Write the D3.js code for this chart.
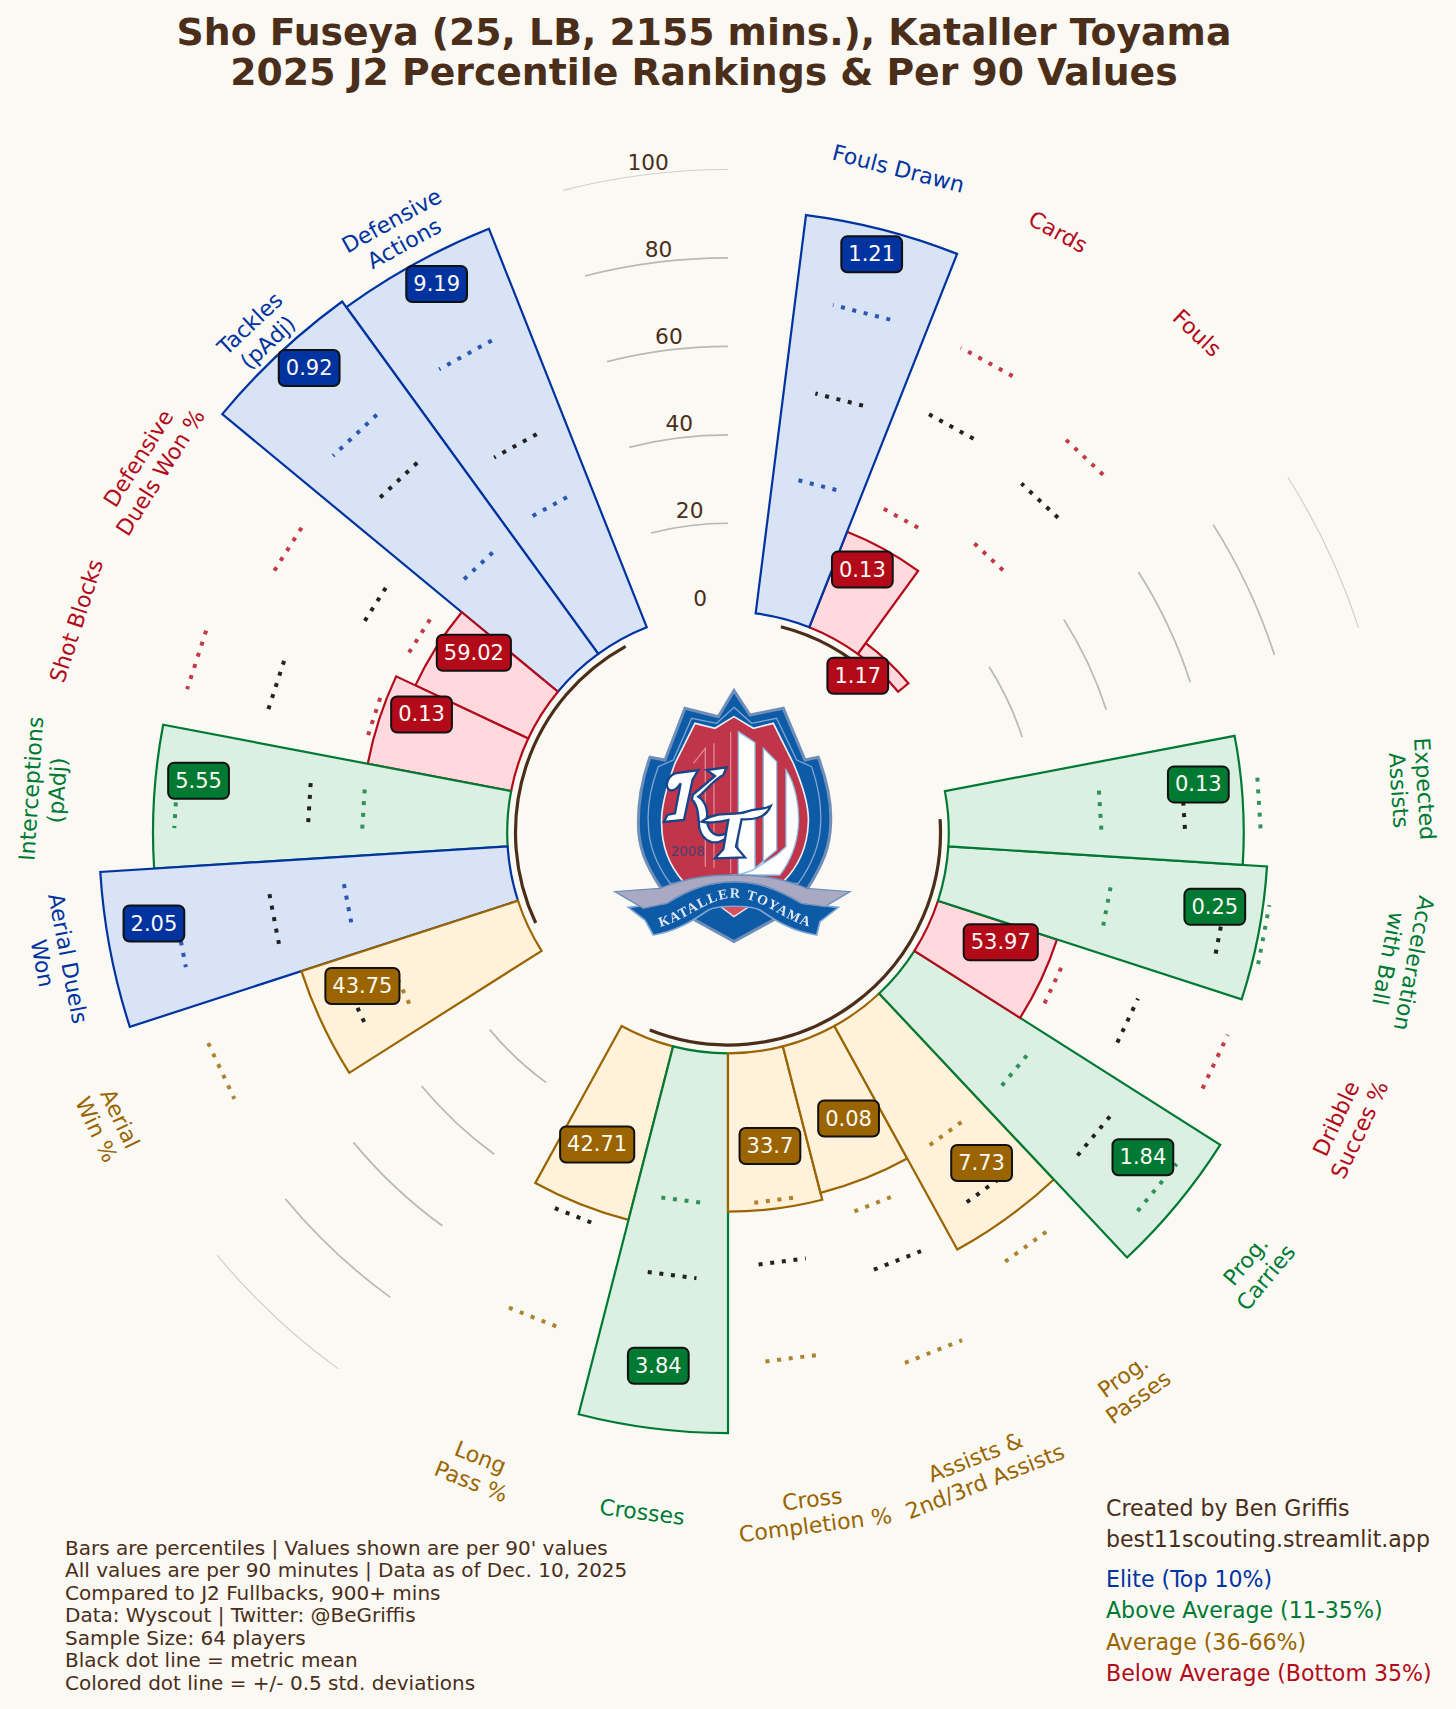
<!DOCTYPE html>
<html>
<head>
<meta charset="utf-8">
<script src="https://cdn.jsdelivr.net/npm/d3@7"></script>
<style>
  html, body { margin: 0; padding: 0; background: #fbf9f4; }
  svg { display: block; }
  text { font-family: "DejaVu Sans", sans-serif; }
  text.crestSerif { font-family: "Liberation Serif", serif; }
</style>
</head>
<body>
<script>
// clockwise from the top, one entry per bar
var metrics = ["Fouls Drawn", "Cards", "Fouls", "Expected\nAssists", "Acceleration\nwith Ball", "Dribble\nSucces %",
  "Prog.\nCarries", "Prog.\nPasses", "Assists &\n2nd/3rd Assists", "Cross\nCompletion %", "Crosses", "Long\nPass %",
  "Aerial\nWin %", "Aerial Duels\nWon", "Interceptions\n(pAdj)", "Shot Blocks", "Defensive\nDuels Won %", "Tackles\n(pAdj)", "Defensive\nActions"];
var slots = [0, 1, 2, 5, 6, 7, 8, 9, 10, 11, 12, 13, 16, 17, 18, 19, 20, 21, 22];
var percentiles = [90.8, 23.2, 3, 66.7, 72.2, 28.3, 81.9, 57.7, 34.2, 35.8, 85.9, 40.5, 51.5, 92.3, 80.1, 33, 28.2, 98.5, 96.9];
var values = ["1.21", "0.13", "1.17", "0.13", "0.25", "53.97", "1.84", "7.73", "0.08", "33.7", "3.84", "42.71", "43.75", "2.05", "5.55", "0.13", "59.02", "0.92", "9.19"];
var tiers = ["elite", "below", "below", "above", "above", "below", "above", "average", "average", "average", "above", "average", "average", "elite", "above", "below", "below", "elite", "elite"];
var meanLine = [51.3, 55, 53.2, 53.4, 63.7, 50.1, 57.7, 49.6, 54.3, 48, 51.1, 43.6, 42.9, 54.7, 45.1, 57.7, 45.2, 59.3, 50];
var highLine = [71.7, 71.7, 67.3, 70.5, 73.6, 72, 76.2, 65.6, 76.5, 70, 69.5, 68.4, 76.9, 76.4, 75.3, 76.6, 68.6, 73.5, 73.5];
var lowLine = [31.3, 31.3, 36, 34.5, 37.5, 31.4, 34.4, 34.2, 40.4, 34, 34, 27.5, 31.9, 37.7, 32.8, 34.4, 32.9, 32.8, 34.2];

var gridTicks = [0, 20, 40, 60, 80, 100];
var gridLevels = [20, 40, 60, 80, 100];
var gridSlots = [3.5, 14.5, 23.5];
var groupSpans = [[0.5, 2.5], [5.5, 13.5], [16.5, 22.5]];

var notes = ["Bars are percentiles | Values shown are per 90' values",
  "All values are per 90 minutes | Data as of Dec. 10, 2025",
  "Compared to J2 Fullbacks, 900+ mins",
  "Data: Wyscout | Twitter: @BeGriffis",
  "Sample Size: 64 players",
  "Black dot line = metric mean",
  "Colored dot line = +/- 0.5 std. deviations"];
var credits = ["Created by Ben Griffis", "best11scouting.streamlit.app"];
var legendTiers = ["elite", "above", "average", "below"];
var legendLabels = ["Elite (Top 10%)", "Above Average (11-35%)", "Average (36-66%)", "Below Average (Bottom 35%)"];

var edgeColor = { elite: "#0033a0", above: "#007a33", average: "#9a6500", below: "#b30a1a" };
var fillColor = { elite: "#d8e3f6", above: "#dbf0e3", average: "#fff1da", below: "#ffd9dd" };
var brown = "#4a2e19";

var width = 1456, height = 1709, cx = 728, cy = 832.5;

var svg = d3.select("body").append("svg").attr("width", width).attr("height", height);
svg.append("rect").attr("width", width).attr("height", height).attr("fill", "#fbf9f4");

var radius = d3.scaleLinear().domain([0, 100]).range([220.8, 663]);
// 25 equal slots round the circle, slot 0 starts a little past the top
var theta = d3.scaleLinear().domain([0, 25]).range([0.04 * Math.PI, 2.04 * Math.PI]);

function polar(a, r) {
  return [cx + r * Math.sin(a), cy - r * Math.cos(a)];
}

var arc = d3.arc();
var polarG = svg.append("g").attr("transform", "translate(" + cx + "," + cy + ")");

// grey rings sit only in the empty sectors
gridLevels.forEach(function (lvl) {
  gridSlots.forEach(function (s) {
    polarG.append("path")
      .attr("d", arc({ innerRadius: radius(lvl), outerRadius: radius(lvl), startAngle: theta(s), endAngle: theta(s + 1) }))
      .attr("fill", "none")
      .attr("stroke", lvl == 100 ? "#cfcfcc" : "#b8b8b6")
      .attr("stroke-width", lvl == 100 ? 1.2 : 1.7);
  });
});

// bars overlap by their edges, the clockwise neighbour is painted on top
var order = d3.range(metrics.length).reverse();
polarG.selectAll("path.bar")
  .data(order)
  .enter()
  .append("path")
  .attr("class", "bar")
  .attr("d", function (i) {
    return arc({ innerRadius: radius(0), outerRadius: radius(percentiles[i]), startAngle: theta(slots[i]), endAngle: theta(slots[i] + 1) });
  })
  .attr("fill", function (i) { return fillColor[tiers[i]]; })
  .attr("stroke", function (i) { return edgeColor[tiers[i]]; })
  .attr("stroke-width", 2.2)
  .attr("stroke-linejoin", "miter");

// brown arcs under each metric group
groupSpans.forEach(function (g) {
  polarG.append("path")
    .attr("d", arc({ innerRadius: 212.5, outerRadius: 212.5, startAngle: theta(g[0]), endAngle: theta(g[1]) }))
    .attr("fill", "none")
    .attr("stroke", brown)
    .attr("stroke-width", 3.2);
});

// mean and +/- 0.5 std dotted lines, dash pattern starts at the clockwise end
var halfSpan = 3.15 * Math.PI / 180;
function dotLine(i, v, color, op) {
  var mid = theta(slots[i] + 0.5);
  var a = polar(mid + halfSpan, radius(v));
  var b = polar(mid - halfSpan, radius(v));
  svg.append("line")
    .attr("x1", a[0]).attr("y1", a[1]).attr("x2", b[0]).attr("y2", b[1])
    .attr("stroke", color)
    .attr("stroke-opacity", op)
    .attr("stroke-width", 4)
    .attr("stroke-dasharray", "4 7.7");
}
metrics.forEach(function (m, i) {
  dotLine(i, highLine[i], edgeColor[tiers[i]], 0.8);
  dotLine(i, meanLine[i], "#222222", 1);
  dotLine(i, lowLine[i], edgeColor[tiers[i]], 0.8);
});

// radial tick labels
var tickAngle = -6.8 * Math.PI / 180;
gridTicks.forEach(function (t) {
  var p = polar(tickAngle, radius(t * 0.992 + 3.45));
  svg.append("text")
    .attr("x", p[0]).attr("y", p[1])
    .attr("text-anchor", "middle")
    .attr("dominant-baseline", "central")
    .attr("font-size", 21.7)
    .attr("fill", brown)
    .text(t);
});

// metric names round the outside
metrics.forEach(function (m, i) {
  var mid = theta(slots[i] + 0.5);
  var deg = mid * 180 / Math.PI;
  var rot = deg <= 105 ? deg : deg < 265 ? deg - 180 : deg - 360;
  var p = polar(mid, radius(105));
  var lines = m.split("\n");
  var lh = 26;
  var t = svg.append("text")
    .attr("transform", "translate(" + p[0] + "," + p[1] + ") rotate(" + rot + ")")
    .attr("text-anchor", "middle")
    .attr("font-size", 22)
    .attr("fill", edgeColor[tiers[i]]);
  lines.forEach(function (l, k) {
    t.append("tspan")
      .attr("x", 0)
      .attr("y", (k - (lines.length - 1) / 2) * lh)
      .attr("dominant-baseline", "central")
      .text(l);
  });
});

// title
["Sho Fuseya (25, LB, 2155 mins.), Kataller Toyama", "2025 J2 Percentile Rankings & Per 90 Values"].forEach(function (l, k) {
  svg.append("text")
    .attr("x", 704).attr("y", 32 + k * 40.2)
    .attr("text-anchor", "middle")
    .attr("dominant-baseline", "central")
    .attr("font-size", 37.75)
    .attr("font-weight", "bold")
    .attr("fill", brown)
    .text(l);
});

// footnotes
notes.forEach(function (l, k) {
  svg.append("text").attr("x", 65).attr("y", 1547.5 + k * 22.5)
    .attr("dominant-baseline", "central")
    .attr("font-size", 20).attr("fill", brown).text(l);
});
credits.forEach(function (l, k) {
  svg.append("text").attr("x", 1106).attr("y", 1507.5 + k * 31)
    .attr("dominant-baseline", "central")
    .attr("font-size", 22.1).attr("fill", brown).text(l);
});
legendLabels.forEach(function (l, k) {
  svg.append("text").attr("x", 1106).attr("y", 1579 + k * 31.3)
    .attr("dominant-baseline", "central")
    .attr("font-size", 22.1).attr("fill", edgeColor[legendTiers[k]]).text(l);
});

// club crest, traced in the crop's coordinates
var defs = svg.append("defs");
defs.append("filter").attr("id", "soft").append("feGaussianBlur").attr("stdDeviation", 1.6);
defs.append("path").attr("id", "ribbonText").attr("d", "M300,920 C375,905 440,835 525,833 C610,835 675,905 750,920");
var crest = svg.append("g").attr("transform", "translate(560,620) scale(0.3333)").attr("filter", "url(#soft)");
function shape(d, fill, stroke, sw) {
  crest.append("path").attr("d", d).attr("fill", fill).attr("stroke", stroke || "none").attr("stroke-width", sw || 0);
}
shape("M522,212 L570,285 L670,265 L735,420 L775,412 C800,480 815,550 812,610 C810,680 790,730 740,810 L640,900 L522,965 L405,900 L300,800 C255,730 235,680 235,610 C235,550 245,480 270,412 L315,420 L375,265 L475,290 Z", "#0d5aa7", "#6f8fb8", 9);
shape("M522,262 L575,310 L650,295 L710,420 L755,440 C775,500 785,560 782,610 C780,680 755,735 715,790 L330,790 C290,735 265,680 265,610 C262,560 272,500 295,440 L340,420 L395,295 L470,310 Z", "none", "#7fa6d0", 4);
shape("M522,290 L580,325 L640,310 L700,430 C730,500 748,560 745,610 C742,680 715,740 670,785 L525,765 L370,785 C330,740 305,680 305,610 C302,560 320,500 345,430 L405,310 L465,325 Z", "#c0344a", "#e9eef4", 5);
// white pillars on the right of the shield
shape("M535,335 L585,368 L585,750 L535,765 Z", "#ffffff", "#8fc0e6", 4);
shape("M610,385 L650,425 L650,690 L585,745 L610,735 Z", "#ffffff", "#8fc0e6", 4);
shape("M678,450 C705,490 720,560 715,620 C710,680 690,725 660,765 L540,765 L580,750 L650,705 L678,680 Z", "#ffffff", "#8fc0e6", 4);
shape("M512,335 L512,760", "none", "#d98a96", 4);
shape("M462,370 L462,745", "none", "#d98a96", 4);
shape("M400,430 L436,385 L436,740", "none", "#d98a96", 4);
// lower tip and ribbon
shape("M475,855 L522,890 L575,855 Z", "#d8505f", "#f3e6e6", 4);
shape("M205,862 L320,850 C400,800 460,785 522,785 C585,785 640,800 725,850 L835,862 L780,905 L770,945 C700,935 650,905 600,870 C570,855 475,855 445,870 C395,905 345,935 280,945 L255,900 Z", "#0d5aa7", "#7fa6d0", 5);
shape("M165,815 L300,805 C390,770 460,765 522,765 C585,765 655,770 740,805 L870,815 L795,860 L725,850 C640,800 585,785 522,785 C460,785 400,800 320,850 L250,865 Z", "#a9a9c4", "#6f8fb8", 4);
crest.append("text")
  .attr("class", "crestSerif")
  .attr("font-weight", "bold")
  .attr("font-size", 42)
  .attr("letter-spacing", 4)
  .attr("fill", "#dfe8f4")
  .append("textPath")
  .attr("href", "#ribbonText")
  .attr("startOffset", "50%")
  .attr("text-anchor", "middle")
  .text("KATALLER TOYAMA");
crest.append("text")
  .attr("x", 385).attr("y", 708).attr("text-anchor", "middle")
  .attr("font-size", 40).attr("fill", "#41406f").text("2008");
// KT monogram: K stem, K arm and leg, then the T with its long swash
shape("M345,460 L415,450 L398,478 L372,600 L312,606 L322,585 L345,580 L362,490 C345,515 325,520 320,495 C322,475 332,465 345,460 Z", "#ffffff", "#16458a", 7);
shape("M398,525 L465,468 L440,450 L500,442 L490,465 C460,480 440,510 415,530 C440,545 445,580 440,600 C445,640 470,655 500,640 L505,650 C470,680 430,670 418,625 C415,590 415,555 396,540 Z", "#ffffff", "#16458a", 7);
shape("M425,605 C470,570 520,590 560,575 C590,565 610,570 632,558 C620,590 585,600 545,598 L528,680 L555,712 L465,715 L490,688 L505,600 C480,605 450,612 425,605 Z", "#ffffff", "#16458a", 7);

// value boxes, drawn last so they cover the bars and dots
metrics.forEach(function (m, i) {
  var mid = theta(slots[i] + 0.5);
  var p = polar(mid, radius(percentiles[i]) - 44.5);
  var g = svg.append("g").attr("transform", "translate(" + p[0] + "," + (p[1] - 18.5) + ")");
  var box = g.append("rect");
  var t = g.append("text")
    .attr("text-anchor", "middle")
    .attr("dominant-baseline", "central")
    .attr("font-size", 21)
    .attr("fill", "#fbf9f4")
    .text(values[i]);
  var w = t.node().getComputedTextLength() + 14;
  box.attr("x", -w / 2).attr("y", -18).attr("width", w).attr("height", 36)
    .attr("rx", 6).attr("ry", 6)
    .attr("fill", edgeColor[tiers[i]])
    .attr("stroke", "#111111")
    .attr("stroke-width", 2);
});
</script>
</body>
</html>
